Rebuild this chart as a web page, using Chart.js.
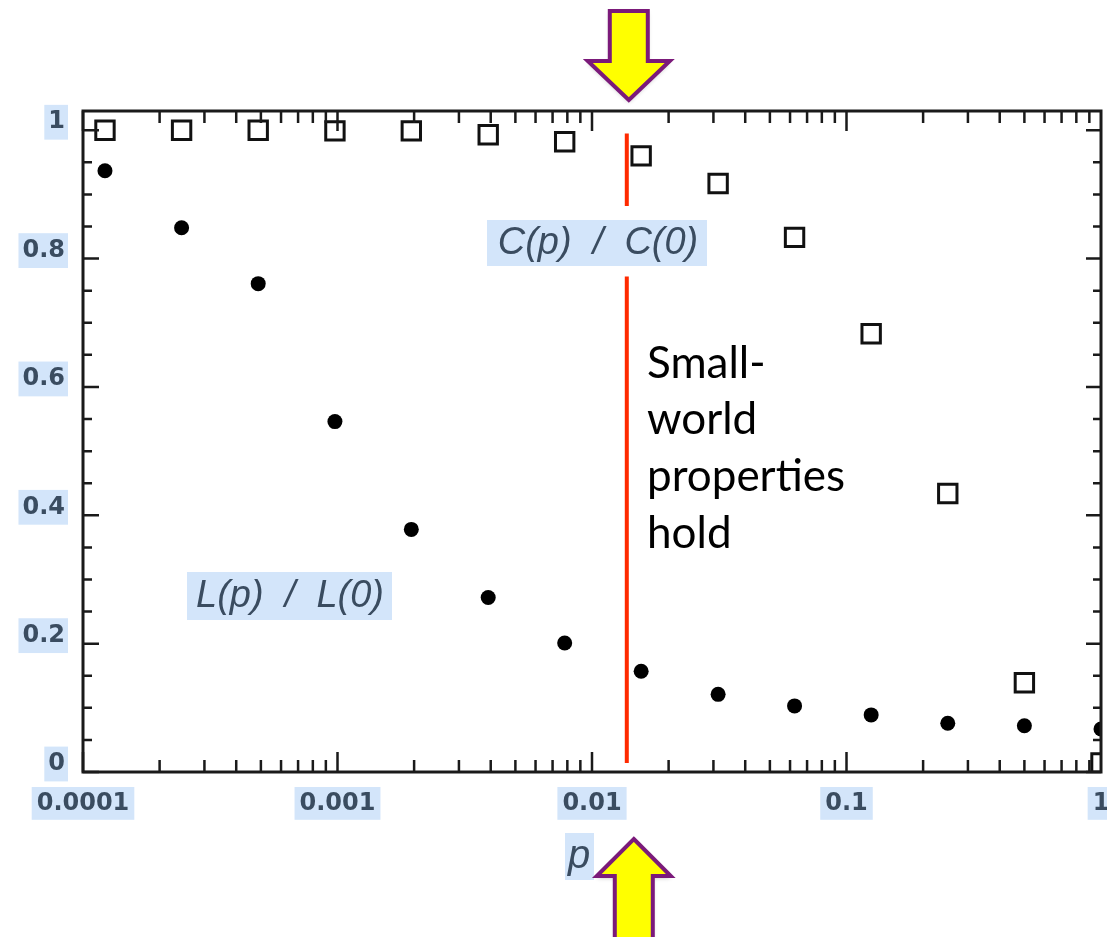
<!DOCTYPE html>
<html>
<head>
<meta charset="utf-8">
<script src="https://cdn.jsdelivr.net/npm/chart.js@4/dist/chart.umd.min.js"></script>
<style>
  html, body { margin: 0; padding: 0; background: #fff; }
  #wrap { width: 1107px; height: 937px; position: relative; }
</style>
</head>
<body>
<div id="wrap"><canvas id="chart"></canvas></div>
<script>
// Rewiring probability p (log axis) and the two normalised measures
const pValues = [0.000122, 0.000244, 0.000488, 0.000977, 0.00195, 0.00391, 0.00781,
                 0.0156, 0.0313, 0.0625, 0.125, 0.25, 0.5, 1];
const clusteringRatio = [1.0, 1.0, 1.0, 0.999, 0.999, 0.993, 0.982,
                         0.96, 0.917, 0.833, 0.683, 0.434, 0.139, 0.014];
const pathLengthRatio = [0.937, 0.848, 0.761, 0.546, 0.378, 0.272, 0.201,
                         0.157, 0.121, 0.103, 0.089, 0.076, 0.072, 0.067];

// Axis ticks
const xTickValues = [0.0001, 0.001, 0.01, 0.1, 1];
const yTickValues = [0, 0.2, 0.4, 0.6, 0.8, 1];

// Red marker line: where small-world properties begin
const thresholdP = 0.0137;
const markerY = [0.995, 0.882, null, 0.772, 0.014];

const cLabel = 'C(p)  /  C(0)';
const lLabel = 'L(p)  /  L(0)';
const noteLines = ['Small-', 'world', 'properties', 'hold'];

const LABEL_BG = '#d3e5fa';
const LABEL_FG = '#3a4c60';

// Inner tick marks on all four sides plus the frame
const frameTicks = {
    id: 'frameTicks',
    afterDatasetsDraw(chart) {
        const { ctx, chartArea: a, scales } = chart;
        ctx.save();
        ctx.strokeStyle = '#1a1a1a';
        ctx.lineWidth = 2.5;
        ctx.beginPath();
        // log x ticks: 1..9 per decade
        for (let e = -4; e < 0; e++) {
            for (let m = 1; m <= 9; m++) {
                const px = scales.x.getPixelForValue(m * Math.pow(10, e));
                const len = m === 1 ? 20 : 12;
                ctx.moveTo(px, a.bottom); ctx.lineTo(px, a.bottom - len);
                ctx.moveTo(px, a.top); ctx.lineTo(px, a.top + len);
            }
        }
        // y ticks every 0.05
        for (let i = 0; i <= 20; i++) {
            const v = i * 0.05;
            const py = scales.y.getPixelForValue(v);
            const major = i % 4 === 0;
            ctx.moveTo(a.left, py); ctx.lineTo(a.left + (major ? 16 : 9), py);
            ctx.moveTo(a.right, py); ctx.lineTo(a.right - (major ? 15 : 8), py);
        }
        ctx.stroke();
        ctx.lineWidth = 3;
        ctx.strokeRect(a.left, a.top, a.right - a.left, a.bottom - a.top);
        ctx.restore();
    }
};

function drawBoxedText(ctx, text, box, font, baseline, align, tx) {
    ctx.fillStyle = LABEL_BG;
    ctx.fillRect(box[0], box[1], box[2] - box[0], box[3] - box[1]);
    ctx.fillStyle = LABEL_FG;
    ctx.font = font;
    ctx.textAlign = align;
    ctx.textBaseline = 'alphabetic';
    ctx.fillText(text, tx, baseline);
}

function drawArrow(ctx, cx, tipY, baseY, endY, headHalf, shaftHalf) {
    ctx.beginPath();
    ctx.moveTo(cx, tipY);
    ctx.lineTo(cx + headHalf, baseY);
    ctx.lineTo(cx + shaftHalf, baseY);
    ctx.lineTo(cx + shaftHalf, endY);
    ctx.lineTo(cx - shaftHalf, endY);
    ctx.lineTo(cx - shaftHalf, baseY);
    ctx.lineTo(cx - headHalf, baseY);
    ctx.closePath();
    ctx.fillStyle = '#ffff00';
    ctx.shadowColor = 'rgba(0,0,0,0.25)';
    ctx.shadowBlur = 4;
    ctx.shadowOffsetY = 2;
    ctx.fill();
    ctx.shadowColor = 'transparent';
    ctx.lineWidth = 4;
    ctx.lineJoin = 'miter';
    ctx.strokeStyle = '#7b1a7a';
    ctx.stroke();
}

const annotations = {
    id: 'annotations',
    afterDraw(chart) {
        const { ctx, scales } = chart;
        const mx = scales.x.getPixelForValue(thresholdP);
        ctx.save();
        drawBoxedText(ctx, cLabel, [487, 220, 707, 266], 'italic 38px "Liberation Sans"', 254, 'center', 598);
        drawBoxedText(ctx, lLabel, [187, 572, 392, 620], 'italic 38px "Liberation Sans"', 607, 'center', 290);
        drawBoxedText(ctx, 'p', [565, 833, 594, 880], 'italic 40px "Liberation Sans"', 868, 'left', 568);

        ctx.fillStyle = '#000';
        ctx.font = '44px Lato';
        ctx.textAlign = 'left';
        const baselines = [378, 434, 491, 548];
        noteLines.forEach((t, i) => ctx.fillText(t, 647, baselines[i]));

        drawArrow(ctx, mx + 2, 100, 61, 11, 41, 19);
        drawArrow(ctx, mx + 7, 839, 876, 945, 37, 19);
        ctx.restore();
    }
};

const tickFont = { family: '"DejaVu Sans"', size: 24, weight: 'bold' };

new Chart(document.getElementById('chart'), {
    type: 'scatter',
    data: {
        datasets: [
            {
                label: 'C(p) / C(0)',
                data: pValues.map((p, i) => ({ x: p, y: clusteringRatio[i] })),
                pointStyle: 'rect',
                pointRadius: 13,
                borderColor: '#111',
                backgroundColor: 'rgba(255,255,255,0)',
                borderWidth: 3,
                clip: 0
            },
            {
                label: 'L(p) / L(0)',
                data: pValues.map((p, i) => ({ x: p, y: pathLengthRatio[i] })),
                pointStyle: 'circle',
                pointRadius: 7.5,
                borderColor: '#000',
                backgroundColor: '#000',
                borderWidth: 0,
                clip: 0
            },
            {
                type: 'line',
                label: 'threshold',
                data: markerY.map(y => ({ x: thresholdP, y: y })),
                borderColor: '#ff2a00',
                borderWidth: 4,
                pointRadius: 0,
                spanGaps: false,
                fill: false
            }
        ]
    },
    options: {
        responsive: true,
        maintainAspectRatio: false,
        animation: false,
        layout: {
            autoPadding: false,
            padding: { top: 111, right: 6, left: 0, bottom: 0 }
        },
        plugins: {
            legend: { display: false },
            tooltip: { enabled: false }
        },
        scales: {
            x: {
                type: 'logarithmic',
                min: 0.0001,
                max: 1,
                afterBuildTicks: scale => {
                    scale.ticks = xTickValues.map(v => ({ value: v, major: true }));
                },
                afterFit: scale => {
                    scale.height = 165;
                    scale.paddingLeft = 0;
                    scale.paddingRight = 0;
                },
                grid: { display: false, drawTicks: false },
                border: { display: false },
                ticks: {
                    autoSkip: false,
                    maxRotation: 0,
                    padding: 17,
                    color: LABEL_FG,
                    font: tickFont,
                    callback: v => String(v),
                    showLabelBackdrop: true,
                    backdropColor: LABEL_BG,
                    backdropPadding: { top: 2, bottom: 2, left: 5, right: 5 }
                }
            },
            y: {
                type: 'linear',
                min: 0,
                max: 1.03,
                afterBuildTicks: scale => {
                    scale.ticks = yTickValues.map(v => ({ value: v }));
                },
                afterFit: scale => {
                    scale.width = 83;
                    scale.paddingTop = 0;
                    scale.paddingBottom = 0;
                },
                grid: { display: false, drawTicks: false },
                border: { display: false },
                ticks: {
                    padding: 18,
                    labelOffset: -8,
                    color: LABEL_FG,
                    font: tickFont,
                    callback: v => String(+v.toFixed(1)),
                    showLabelBackdrop: true,
                    backdropColor: LABEL_BG,
                    backdropPadding: { top: 3, bottom: 3, left: 4, right: 3 }
                }
            }
        }
    },
    plugins: [frameTicks, annotations]
});
</script>
</body>
</html>
